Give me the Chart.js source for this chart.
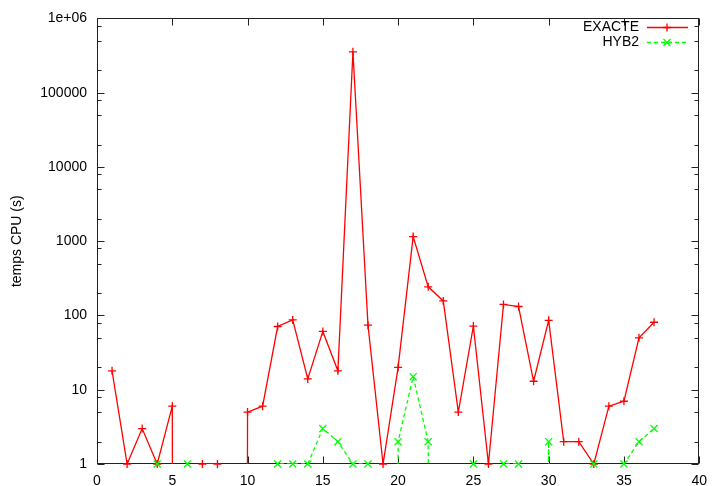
<!DOCTYPE html>
<html>
<head>
<meta charset="utf-8">
<script src="https://cdn.jsdelivr.net/npm/chart.js@4.4.1/dist/chart.umd.min.js"></script>
<style>
html, body { margin: 0; padding: 0; background: #fff; }
#wrap { width: 716px; height: 486px; position: relative; }
</style>
</head>
<body>
<div id="wrap"><canvas id="cpu-chart"></canvas></div>
<script>
const runs = [1, 2, 3, 4, 5, 6, 7, 8, 9, 10, 11, 12, 13, 14, 15, 16, 17, 18, 19, 20,
    21, 22, 23, 24, 25, 26, 27, 28, 29, 30, 31, 32, 33, 34, 35, 36, 37];
const exacte = [18, 1, 3, 1, 6, 0, 1, 1, 0, 5, 6, 71, 87, 14, 61, 18, 355000, 74, 1, 20,
    1155, 243, 157, 5, 72, 1, 141, 132, 13, 86, 2, 2, 1, 6, 7, 50, 81];
const hyb2 = [0, 0, 0, 1, 0, 1, 0, 0, 0, 0, 0, 1, 1, 1, 3, 2, 1, 1, 0, 2,
    15, 2, 0, 0, 1, 0, 1, 1, 0, 2, 0, 0, 1, 0, 1, 2, 3];

const xTicks = [0, 5, 10, 15, 20, 25, 30, 35, 40];
const yTicks = [1, 10, 100, 1000, 10000, 100000, 1000000];
const yTickLabels = ['1', '10', '100', '1000', '10000', '100000', '1e+06'];
const yMinorSteps = [2, 5, 8];

const RED = '#ff0000';
const GREEN = '#00ff00';
const FONT = { family: '"Liberation Sans", Arial, sans-serif', size: 14 };

// log(0) is -inf: the line falls straight down out of the plot, like gnuplot
const LOG_FLOOR = 1e-100;

function lineData(values) {
    return runs.map((x, i) => ({ x: x, y: values[i] > 0 ? values[i] : LOG_FLOOR }));
}

function pointData(values) {
    return runs.map((x, i) => ({ x: x, y: values[i] > 0 ? values[i] : null }));
}

// border box + inward tics on all four sides
const gnuplotFrame = {
    id: 'gnuplotFrame',
    beforeDatasetsDraw(chart) {
        const { ctx, chartArea: a, scales } = chart;
        const L = Math.round(a.left) + 0.5, R = Math.round(a.right) - 0.5;
        const T = Math.round(a.top) + 0.5, B = Math.round(a.bottom) - 0.5;
        ctx.save();
        ctx.strokeStyle = '#222';
        ctx.lineWidth = 1;
        ctx.beginPath();
        xTicks.forEach(v => {
            const px = Math.round(scales.x.getPixelForValue(v)) + 0.5;
            ctx.moveTo(px, B); ctx.lineTo(px, B - 7);
            ctx.moveTo(px, T); ctx.lineTo(px, T + 7);
        });
        yTicks.forEach((v, i) => {
            const py = Math.round(scales.y.getPixelForValue(v)) + 0.5;
            ctx.moveTo(L, py); ctx.lineTo(L + 7, py);
            ctx.moveTo(R, py); ctx.lineTo(R - 7, py);
            if (i === yTicks.length - 1) return;
            yMinorSteps.forEach(m => {
                const my = Math.round(scales.y.getPixelForValue(v * m)) + 0.5;
                ctx.moveTo(L, my); ctx.lineTo(L + 4, my);
                ctx.moveTo(R, my); ctx.lineTo(R - 4, my);
            });
        });
        ctx.stroke();
        ctx.strokeRect(L, T, R - L, B - T);
        ctx.restore();
    }
};

// gnuplot style key: label right aligned, then sample line with marker
const gnuplotKey = {
    id: 'gnuplotKey',
    afterDraw(chart) {
        const ctx = chart.ctx;
        const entries = [
            { label: 'EXACTE', color: RED, dash: [], style: 'cross', radius: 4, y: 27 },
            { label: 'HYB2', color: GREEN, dash: [4, 3], style: 'crossRot', radius: 5, y: 42 }
        ];
        ctx.save();
        ctx.font = FONT.size + 'px ' + FONT.family;
        ctx.textAlign = 'right';
        ctx.textBaseline = 'middle';
        entries.forEach(e => {
            ctx.fillStyle = '#000';
            ctx.fillText(e.label, 639, e.y);
            ctx.strokeStyle = e.color;
            ctx.lineWidth = 1.3;
            ctx.setLineDash(e.dash);
            ctx.beginPath();
            ctx.moveTo(647, e.y + 0.5);
            ctx.lineTo(688, e.y + 0.5);
            ctx.stroke();
            ctx.setLineDash([]);
            Chart.helpers.drawPoint(ctx, { pointStyle: e.style, radius: e.radius, borderWidth: 1.3 }, 667, e.y + 0.5);
        });
        ctx.restore();
    }
};

function buildChart() {
    Chart.defaults.color = '#000';
    Chart.defaults.font = FONT;

    const ctx = document.getElementById('cpu-chart').getContext('2d');
    return new Chart(ctx, {
        type: 'line',
        data: {
            datasets: [
                {
                    label: 'HYB2 points',
                    data: pointData(hyb2),
                    showLine: false,
                    pointStyle: 'crossRot',
                    pointRadius: 5,
                    pointBorderWidth: 1.3,
                    borderColor: GREEN,
                    pointBorderColor: GREEN,
                    clip: false
                },
                {
                    label: 'HYB2',
                    data: lineData(hyb2),
                    borderColor: GREEN,
                    borderWidth: 1.3,
                    borderDash: [4, 3],
                    pointRadius: 0,
                    tension: 0
                },
                {
                    label: 'EXACTE points',
                    data: pointData(exacte),
                    showLine: false,
                    pointStyle: 'cross',
                    pointRadius: 4,
                    pointBorderWidth: 1.3,
                    borderColor: RED,
                    pointBorderColor: RED,
                    clip: false
                },
                {
                    label: 'EXACTE',
                    data: lineData(exacte),
                    borderColor: RED,
                    borderWidth: 1.3,
                    pointRadius: 0,
                    tension: 0
                }
            ]
        },
        options: {
            responsive: true,
            maintainAspectRatio: false,
            animation: false,
            layout: { padding: { top: 14, right: 12, left: 0, bottom: 0 } },
            plugins: {
                legend: { display: false },
                tooltip: { enabled: false }
            },
            scales: {
                x: {
                    type: 'linear',
                    min: 0,
                    max: 40,
                    grid: { display: false, drawTicks: false },
                    border: { display: false },
                    afterBuildTicks: scale => { scale.ticks = xTicks.map(v => ({ value: v })); },
                    afterFit: scale => { scale.height = 22; },
                    ticks: { padding: 9, maxRotation: 0, autoSkip: false }
                },
                y: {
                    type: 'logarithmic',
                    min: 1,
                    max: 1000000,
                    grid: { display: false, drawTicks: false },
                    border: { display: false },
                    afterBuildTicks: scale => { scale.ticks = yTicks.map(v => ({ value: v })); },
                    afterFit: scale => { scale.width = 97; },
                    ticks: {
                        padding: 10,
                        autoSkip: false,
                        callback: (value, index) => yTickLabels[index]
                    },
                    title: {
                        display: true,
                        text: 'temps CPU (s)',
                        padding: { top: 9, bottom: 0 }
                    }
                }
            }
        },
        plugins: [gnuplotFrame, gnuplotKey]
    });
}

window.onload = function() {
    buildChart();
};
</script>
</body>
</html>
